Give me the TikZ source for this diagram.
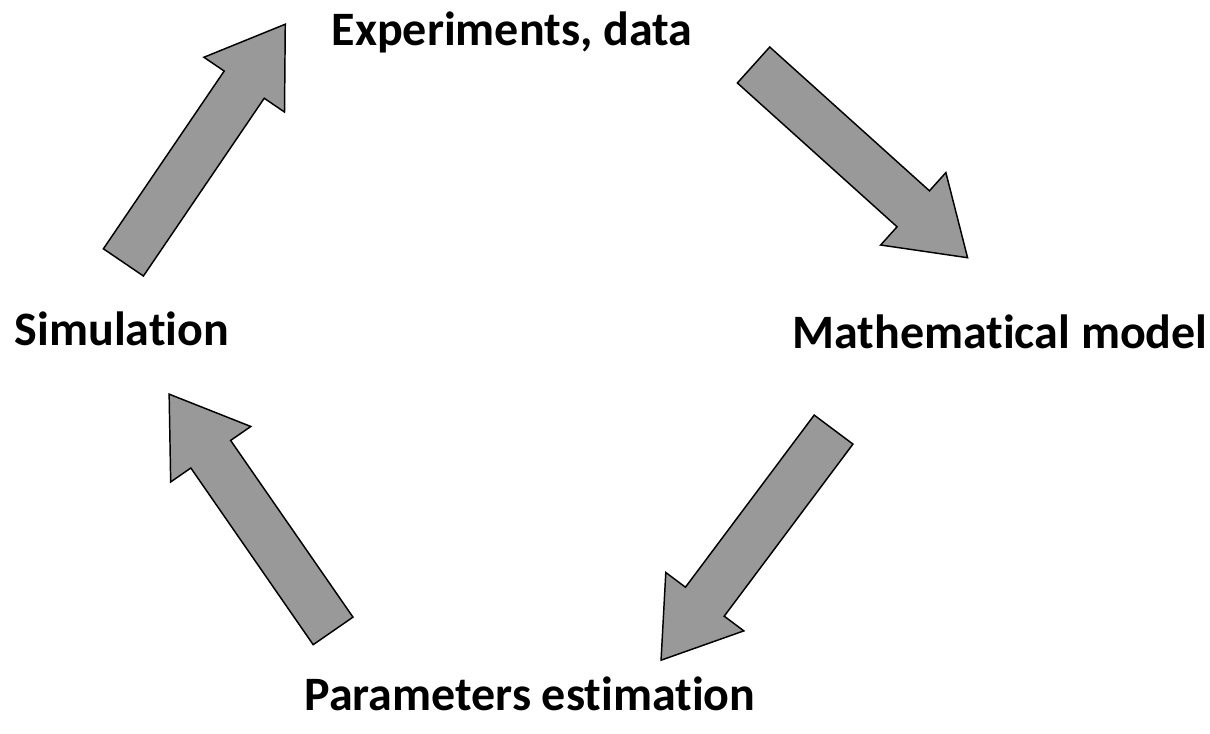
\documentclass[tikz,border=0pt]{standalone}
\usepackage{fontspec}
\setmainfont{Carlito}[Ligatures=NoCommon]
\usetikzlibrary{shapes.arrows}
\definecolor{arrowGray}{HTML}{999999}

\begin{document}
\begin{tikzpicture}[x=0.75pt,y=-0.75pt,stage/.style={font=\fontsize{36}{43}\selectfont\bfseries,inner sep=0pt,anchor=base},bigarrow/.style={single arrow,draw=black,line width=1.1pt,fill=arrowGray,minimum width=72pt,minimum height=216pt,single arrow head extend=18.4pt,single arrow tip angle=67.4,inner xsep=0pt,inner ysep=17.6pt,anchor=tail}]
    \useasboundingbox (0,0) rectangle (1210,733);
    \node[stage] (exp) at (512,45) {Experiments, data};
    \node[stage] (model) at (1000,348) {Mathematical model};
    \node[stage] (est) at (530,710) {Parameters estimation};
    \node[stage] (sim) at (122,345) {Simulation};
    \node[bigarrow,rotate=-42] (ar1) at (753,64.5) {};
    \node[bigarrow,rotate=-126.8] (ar2) at (834,429) {};
    \node[bigarrow,rotate=124.7] (ar3) at (333.5,631.5) {};
    \node[bigarrow,rotate=55.8] (ar4) at (123,263) {};
  \end{tikzpicture}
\end{document}
